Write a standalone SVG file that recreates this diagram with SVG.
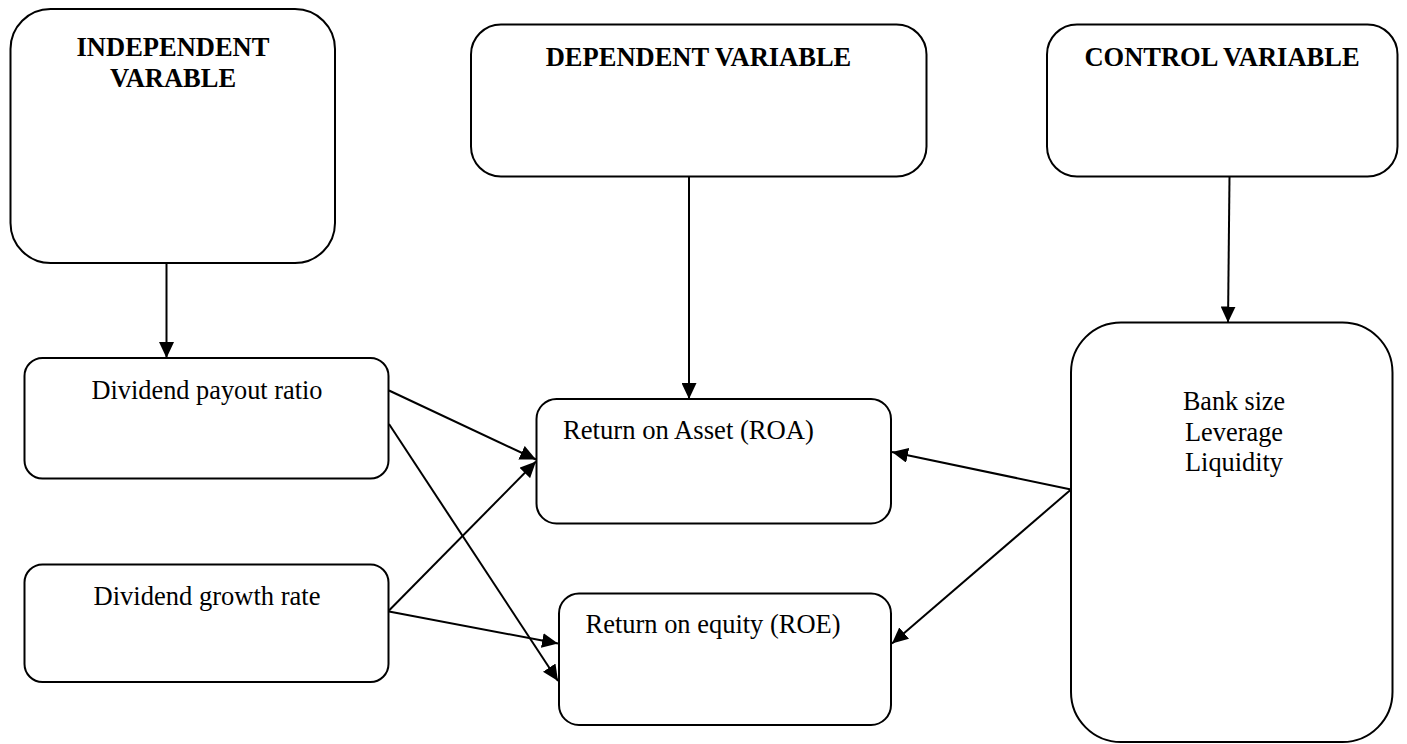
<svg xmlns="http://www.w3.org/2000/svg" width="1407" height="744" viewBox="0 0 1407 744">
  <style>
    .box { fill: #ffffff; stroke: #000000; stroke-width: 2; }
    .head { font-family: "Liberation Serif", "Times New Roman", serif; font-size: 26.5px; font-weight: bold; fill: #000000; text-anchor: middle; }
    .lbl { font-family: "Liberation Serif", "Times New Roman", serif; font-size: 27.5px; fill: #000000; }
    .mid { text-anchor: middle; }
    .edge { stroke: #000000; stroke-width: 2; fill: none; marker-end: url(#arrow); }
  </style>
  <defs>
    <marker id="arrow" viewBox="0 0 16 15" refX="16" refY="7.5" markerWidth="16" markerHeight="15" markerUnits="userSpaceOnUse" orient="auto">
      <path d="M0,0 L16,7.5 L0,15 z" fill="#000000"/>
    </marker>
  </defs>
  <rect width="1407" height="744" fill="#ffffff"/>

  <!-- header boxes -->
  <g id="independent">
    <rect class="box" x="10.5" y="9" width="324.5" height="254" rx="40" ry="40"/>
    <text class="head" x="173" y="56">INDEPENDENT</text>
    <text class="head" x="173" y="87">VARABLE</text>
  </g>
  <g id="dependent">
    <rect class="box" x="471" y="24.5" width="455.5" height="152" rx="30" ry="30"/>
    <text class="head" x="698.5" y="66">DEPENDENT VARIABLE</text>
  </g>
  <g id="control">
    <rect class="box" x="1047" y="24.5" width="350.5" height="152" rx="30" ry="30"/>
    <text class="head" x="1222" y="66">CONTROL VARIABLE</text>
  </g>

  <!-- variable boxes -->
  <g id="payout">
    <rect class="box" x="24.5" y="358" width="364" height="120.5" rx="18" ry="18"/>
    <text class="lbl mid" x="207" y="398.5" textLength="231" lengthAdjust="spacingAndGlyphs">Dividend payout ratio</text>
  </g>
  <g id="growth">
    <rect class="box" x="24.5" y="564.5" width="364" height="117.5" rx="18" ry="18"/>
    <text class="lbl mid" x="207" y="605" textLength="227" lengthAdjust="spacingAndGlyphs">Dividend growth rate</text>
  </g>
  <g id="roa">
    <rect class="box" x="536.5" y="399" width="354.5" height="124.5" rx="20" ry="20"/>
    <text class="lbl" x="563" y="439" textLength="251" lengthAdjust="spacingAndGlyphs">Return on Asset (ROA)</text>
  </g>
  <g id="roe">
    <rect class="box" x="559" y="593.5" width="332" height="131.5" rx="20" ry="20"/>
    <text class="lbl" x="585.5" y="633" textLength="255" lengthAdjust="spacingAndGlyphs">Return on equity (ROE)</text>
  </g>
  <g id="controls">
    <rect class="box" x="1071" y="322.5" width="321.5" height="419.5" rx="50" ry="50"/>
    <text class="lbl mid" x="1234" y="410" textLength="102" lengthAdjust="spacingAndGlyphs">Bank size</text>
    <text class="lbl mid" x="1234" y="441" textLength="98" lengthAdjust="spacingAndGlyphs">Leverage</text>
    <text class="lbl mid" x="1234" y="471" textLength="98" lengthAdjust="spacingAndGlyphs">Liquidity</text>
  </g>

  <!-- connectors -->
  <g id="connectors">
    <line class="edge" x1="166.5" y1="263" x2="166.5" y2="358"/>
    <line class="edge" x1="689" y1="176.5" x2="689" y2="399"/>
    <line class="edge" x1="1229.5" y1="176.5" x2="1228" y2="322.5"/>
    <line class="edge" x1="389" y1="390.5" x2="536" y2="459.5"/>
    <line class="edge" x1="389" y1="424" x2="558" y2="681"/>
    <line class="edge" x1="389" y1="610.5" x2="536" y2="461.5"/>
    <line class="edge" x1="389" y1="611.5" x2="558" y2="643.5"/>
    <line class="edge" x1="1071" y1="489.5" x2="892" y2="452"/>
    <line class="edge" x1="1071" y1="489.5" x2="892" y2="643.5"/>
  </g>
</svg>
